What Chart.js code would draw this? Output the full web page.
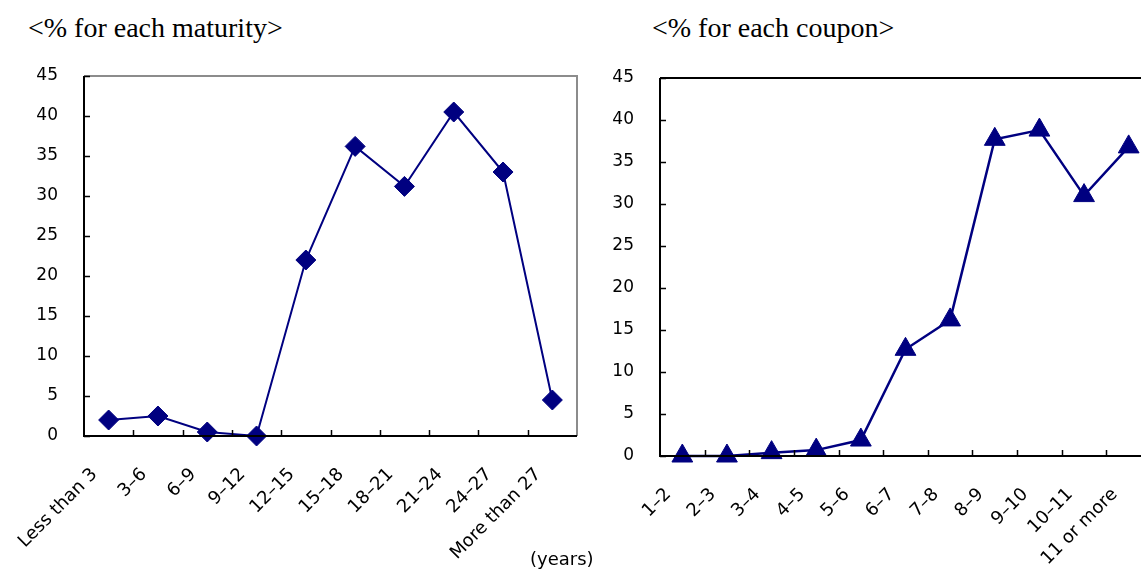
<!DOCTYPE html>
<html>
<head>
<meta charset="utf-8">
<script src="https://cdn.jsdelivr.net/npm/chart.js@4.4.1/dist/chart.umd.min.js"></script>
<style>
    body { margin: 0; width: 1141px; height: 570px; overflow: hidden; background: #fff; position: relative; }
    .title { position: absolute; font-family: "Liberation Serif", serif; font-size: 28px; color: #000; white-space: nowrap; }
    .box { position: absolute; top: 0; height: 570px; }
    #years { position: absolute; left: 530px; top: 548px; font-family: "DejaVu Sans", sans-serif; font-size: 18px; }
</style>
</head>
<body>
<div class="title" style="left:28px; top:12px;">&lt;% for each maturity&gt;</div>
<div class="title" style="left:652px; top:12px;">&lt;% for each coupon&gt;</div>
<div class="box" style="left:0; width:600px;"><canvas id="maturityChart"></canvas></div>
<div class="box" style="left:600px; width:570px;"><canvas id="couponChart"></canvas></div>
<div id="years">(years)</div>

<script>
// data
const maturityLabels = ['Less than 3', '3\u20136', '6\u20139', '9\u201312', '12\u201315', '15\u201318', '18\u201321', '21\u201324', '24\u201327', 'More than 27'];
const maturityValues = [2.0, 2.5, 0.5, 0.0, 22.0, 36.2, 31.2, 40.5, 33.0, 4.5];

const couponLabels = ['1\u20132', '2\u20133', '3\u20134', '4\u20135', '5\u20136', '6\u20137', '7\u20138', '8\u20139', '9\u201310', '10\u201311', '11 or more'];
const couponValues = [0.0, 0.0, 0.4, 0.7, 1.9, 12.7, 16.2, 37.7, 38.8, 31.0, 36.8];

const yTicks = [0, 5, 10, 15, 20, 25, 30, 35, 40, 45];

const NAVY = '#000080';
const yFont = { family: '"DejaVu Sans", sans-serif', size: 17 };
const xFont = { family: '"DejaVu Sans", sans-serif', size: 18 };

// frame + inward tick marks
const framePlugin = {
    id: 'frame',
    afterDraw(chart, args, opts) {
        const ctx = chart.ctx;
        const a = chart.chartArea;
        const x = chart.scales.x;
        const y = chart.scales.y;
        ctx.save();
        // top / right border
        ctx.strokeStyle = opts.topColor;
        ctx.lineWidth = 2;
        ctx.beginPath();
        ctx.moveTo(a.left, a.top);
        ctx.lineTo(a.right, a.top);
        ctx.lineTo(a.right, a.bottom);
        ctx.stroke();
        // axes
        ctx.strokeStyle = '#000';
        ctx.beginPath();
        ctx.moveTo(a.left, a.top);
        ctx.lineTo(a.left, a.bottom);
        ctx.lineTo(a.right, a.bottom);
        ctx.stroke();
        // y ticks
        ctx.lineWidth = 1.5;
        ctx.beginPath();
        yTicks.forEach(v => {
            const py = Math.round(y.getPixelForValue(v)) + 0.5;
            ctx.moveTo(a.left, py);
            ctx.lineTo(a.left + 6, py);
        });
        // x ticks at category borders
        const n = chart.data.labels.length;
        for (let i = 1; i < n; i++) {
            const px = Math.round((x.getPixelForValue(i - 1) + x.getPixelForValue(i)) / 2) + 0.5;
            ctx.moveTo(px, a.bottom);
            ctx.lineTo(px, a.bottom - 6);
        }
        ctx.stroke();
        ctx.restore();
    }
};

function makeChart(id, labels, values, style, radius, lineW, box) {
    const ctx = document.getElementById(id).getContext('2d');
    return new Chart(ctx, {
        type: 'line',
        data: {
            labels: labels,
            datasets: [{
                data: values,
                borderColor: NAVY,
                backgroundColor: NAVY,
                borderWidth: lineW,
                pointStyle: style,
                pointRadius: radius,
                pointHoverRadius: radius,
                pointBorderWidth: 1,
                pointBorderColor: NAVY,
                pointBackgroundColor: NAVY,
                tension: 0,
                clip: false
            }]
        },
        options: {
            responsive: false,
            animation: false,
            devicePixelRatio: 1,
            layout: { padding: { left: 0, top: box.top, right: box.right, bottom: 0 } },
            scales: {
                x: {
                    offset: true,
                    grid: { display: false },
                    border: { display: false },
                    ticks: {
                        autoSkip: false,
                        maxRotation: 45,
                        minRotation: 45,
                        padding: 20,
                        labelOffset: -14,
                        color: '#000',
                        font: xFont
                    },
                    afterFit: s => { s.height = box.bottom; }
                },
                y: {
                    min: 0,
                    max: 45,
                    grid: { display: false },
                    border: { display: false },
                    ticks: {
                        stepSize: 5,
                        padding: 18,
                        color: '#000',
                        font: yFont
                    },
                    afterFit: s => { s.width = box.left; }
                }
            },
            plugins: {
                legend: { display: false },
                tooltip: { enabled: false },
                frame: { topColor: box.topColor }
            }
        },
        plugins: [framePlugin]
    });
}

const c1 = document.getElementById('maturityChart');
c1.width = 600; c1.height = 570;
const c2 = document.getElementById('couponChart');
c2.width = 570; c2.height = 570;

makeChart('maturityChart', maturityLabels, maturityValues, 'rectRot', 10, 2,
    { left: 84, top: 76, right: 23, bottom: 134, topColor: '#8c8c8c' });
makeChart('couponChart', couponLabels, couponValues, 'triangle', 12, 2.5,
    { left: 60, top: 78, right: 19, bottom: 114, topColor: '#000' });
</script>
</body>
</html>
